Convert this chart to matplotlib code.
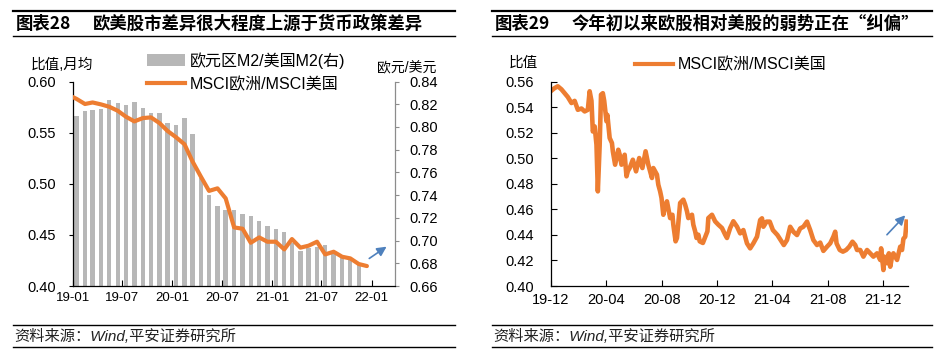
import numpy as np
import pandas as pd
import matplotlib
matplotlib.use("Agg")
import matplotlib.pyplot as plt
import matplotlib.dates as mdates
from matplotlib.lines import Line2D
from matplotlib.patches import Patch

plt.rcParams['font.family'] = ['Liberation Sans', 'Noto Sans CJK SC']
plt.rcParams['axes.unicode_minus'] = False

# ---- left chart: monthly data 2018-12 .. 2021-12 (line), 2019-01 .. 2021-11 (bars)
msci_monthly = [0.587, 0.583, 0.578, 0.5795, 0.5776, 0.5753, 0.5714, 0.5656, 0.561,
                0.5642, 0.5649, 0.5594, 0.5516, 0.5455, 0.5386, 0.522, 0.507, 0.493,
                0.4955, 0.4857, 0.4573, 0.456, 0.4423, 0.4475, 0.4433, 0.4433, 0.4358,
                0.4459, 0.4375, 0.4394, 0.4433, 0.4309, 0.4335, 0.4286, 0.427, 0.4215,
                0.4195]
m2_ratio = [0.8092, 0.8136, 0.8147, 0.8156, 0.8241, 0.8209, 0.8191, 0.8223, 0.8165,
            0.8121, 0.8121, 0.8033, 0.8013, 0.8077, 0.7936, 0.7555, 0.7397, 0.7303,
            0.7271, 0.7268, 0.7233, 0.7215, 0.7171, 0.7127, 0.7101, 0.7077, 0.6975,
            0.691, 0.6931, 0.6946, 0.696, 0.6887, 0.6858, 0.6829, 0.6785]
line_months = pd.period_range('2018-12', periods=len(msci_monthly), freq='M')
bar_months = pd.period_range('2019-01', periods=len(m2_ratio), freq='M')

# ---- right chart: MSCI Europe / MSCI US
msci_dates = [
    '2019-12-02', '2019-12-09', '2019-12-16', '2019-12-24', '2019-12-31', '2020-01-07',
    '2020-01-15', '2020-01-22', '2020-01-29', '2020-02-06', '2020-02-13', '2020-02-20',
    '2020-02-24', '2020-02-28', '2020-03-02', '2020-03-06', '2020-03-10', '2020-03-13',
    '2020-03-17', '2020-03-20', '2020-03-24', '2020-03-27', '2020-04-01', '2020-04-03',
    '2020-04-08', '2020-04-13', '2020-04-15', '2020-04-20', '2020-04-23', '2020-04-27',
    '2020-04-30', '2020-05-04', '2020-05-11', '2020-05-15', '2020-05-18', '2020-05-22',
    '2020-05-29', '2020-06-05', '2020-06-12', '2020-06-19', '2020-06-26', '2020-07-02',
    '2020-07-10', '2020-07-13', '2020-07-21', '2020-07-24', '2020-07-28', '2020-07-31',
    '2020-08-04', '2020-08-07', '2020-08-12', '2020-08-19', '2020-08-24', '2020-08-26',
    '2020-08-31', '2020-09-03', '2020-09-07', '2020-09-10', '2020-09-17', '2020-09-21',
    '2020-09-25', '2020-09-28', '2020-10-06', '2020-10-09', '2020-10-13', '2020-10-16',
    '2020-10-20', '2020-10-23', '2020-10-30', '2020-11-09', '2020-11-11', '2020-11-19',
    '2020-11-26', '2020-12-03', '2020-12-11', '2020-12-18', '2020-12-22', '2020-12-29',
    '2021-01-05', '2021-01-13', '2021-01-20', '2021-01-27', '2021-02-04', '2021-02-11',
    '2021-02-18', '2021-02-26', '2021-03-05', '2021-03-09', '2021-03-12', '2021-03-19',
    '2021-03-26', '2021-04-02', '2021-04-12', '2021-04-19', '2021-04-26', '2021-05-03',
    '2021-05-10', '2021-05-17', '2021-05-25', '2021-06-01', '2021-06-08', '2021-06-16',
    '2021-06-23', '2021-06-30', '2021-07-08', '2021-07-15', '2021-07-22', '2021-07-30',
    '2021-08-06', '2021-08-13', '2021-08-17', '2021-08-20', '2021-08-27', '2021-09-03',
    '2021-09-10', '2021-09-17', '2021-09-24', '2021-09-30', '2021-10-04', '2021-10-11',
    '2021-10-18', '2021-10-26', '2021-11-02', '2021-11-09', '2021-11-17', '2021-11-24',
    '2021-11-26', '2021-12-01', '2021-12-03', '2021-12-09', '2021-12-13', '2021-12-16',
    '2021-12-20', '2021-12-23', '2021-12-31', '2022-01-07', '2022-01-11', '2022-01-14',
    '2022-01-18', '2022-01-21']
msci_daily = [
    0.553, 0.555, 0.5564, 0.554, 0.551, 0.548,
    0.5433, 0.545, 0.538, 0.539, 0.5367, 0.538,
    0.5525, 0.545, 0.521, 0.525, 0.5107, 0.4741,
    0.510, 0.5498, 0.551, 0.545, 0.529, 0.534,
    0.5159, 0.512, 0.5055, 0.495, 0.500, 0.5067,
    0.503, 0.495, 0.5028, 0.4859, 0.490, 0.4924,
    0.4989, 0.4898, 0.5002, 0.4924, 0.5055, 0.495,
    0.4846, 0.4924, 0.4872, 0.4793, 0.4741, 0.469,
    0.4558, 0.461, 0.4663, 0.4532, 0.4558, 0.448,
    0.435, 0.4376, 0.4532, 0.465, 0.4676, 0.4637,
    0.4585, 0.4532, 0.4558, 0.448, 0.4428, 0.4376,
    0.4402, 0.435, 0.4337, 0.4428, 0.4532, 0.4558,
    0.4506, 0.448, 0.4454, 0.4402, 0.4376, 0.4454,
    0.4507, 0.4465, 0.4412, 0.4438, 0.4334, 0.4295,
    0.4334, 0.4386, 0.4517, 0.453, 0.4464, 0.4504,
    0.4504, 0.4438, 0.4399, 0.436, 0.4321, 0.436,
    0.4464, 0.4425, 0.4399, 0.4451, 0.4464, 0.4504,
    0.4438, 0.436, 0.4321, 0.434, 0.4275, 0.4308,
    0.4334, 0.4386, 0.4425, 0.4334, 0.4282, 0.4269,
    0.4282, 0.4308, 0.4347, 0.4321, 0.4282, 0.4282,
    0.423, 0.4282, 0.4256, 0.423, 0.4256, 0.4204,
    0.4295, 0.4125, 0.423, 0.4178, 0.4256, 0.4151,
    0.423, 0.4256, 0.4204, 0.4308, 0.4282, 0.437,
    0.4386, 0.4504]

ORANGE = '#ED7D31'
GRAY = '#B7B7B7'
BLUE = '#4F81BD'
CJK = ['Noto Sans CJK SC']

W, H = 949, 363
fig = plt.figure(figsize=(W / 100, H / 100), dpi=100)


def fx(px):
    return px / W


def fy(py):
    return 1 - py / H


def frame(x0, x1, num, title):
    # title bar with rules, and the source line underneath
    for y, lw in [(11, 1.6), (36, 1.0), (325, 1.0), (347, 1.0)]:
        fig.add_artist(Line2D([fx(x0), fx(x1)], [fy(y), fy(y)], color='black', lw=lw))
    fig.text(fx(x0 + 3), fy(24), num, fontsize=12.5, fontweight='bold', va='center',
             family=CJK)
    fig.text(fx(x0 + 80), fy(24), title, fontsize=12.5, fontweight='bold', va='center',
             family=CJK)
    fig.text(fx(x0 + 1), fy(336.5), '资料来源：Wind,平安证券研究所', fontsize=11,
             style='italic', va='center', color='#222222')


frame(13, 455, '图表28', '欧美股市差异很大程度上源于货币政策差异')
frame(492, 932, '图表29', '今年初以来欧股相对美股的弱势正在“纠偏”')

# ---------------- left chart ----------------
axL = fig.add_axes([fx(72.7), fy(286), fx(395) - fx(72.7), fy(81.5) - fy(286)])
axR = axL.twinx()
axL.set_zorder(axR.get_zorder() + 1)
axL.patch.set_visible(False)

bar_x = bar_months.to_timestamp() + pd.Timedelta(days=14)
line_x = line_months.to_timestamp() + pd.Timedelta(days=14)
axR.bar(bar_x, m2_ratio, width=16, color=GRAY, zorder=1)
axL.plot(line_x, msci_monthly, color=ORANGE, lw=3.0, solid_capstyle='round', zorder=3)

axL.set_xlim(pd.Timestamp('2019-01-01'), pd.Timestamp('2022-03-28'))
axL.set_ylim(0.40, 0.60)
axL.set_yticks(np.arange(0.40, 0.601, 0.05))
axL.yaxis.set_major_formatter(matplotlib.ticker.FormatStrFormatter('%.2f'))
axR.set_ylim(0.66, 0.84)
axR.set_yticks(np.arange(0.66, 0.8401, 0.02))
axR.yaxis.set_major_formatter(matplotlib.ticker.FormatStrFormatter('%.2f'))
axL.xaxis.set_major_locator(mdates.MonthLocator(bymonth=[1, 7]))
axL.xaxis.set_major_formatter(mdates.DateFormatter('%y-%m'))

for ax in (axL, axR):
    ax.spines['top'].set_visible(False)
axL.spines['left'].set_color('black')
axL.spines['bottom'].set_color('black')
axL.spines['right'].set_visible(False)
axR.spines['left'].set_visible(False)
axR.spines['bottom'].set_visible(False)
axR.spines['right'].set_color('#8C8C8C')
for sp in ('left', 'bottom'):
    axL.spines[sp].set_linewidth(0.9)
axR.spines['right'].set_linewidth(0.9)

axL.tick_params(axis='y', direction='out', length=3, width=0.8, labelsize=10.5, pad=9)
axL.tick_params(axis='x', direction='in', length=4, width=0.8, labelsize=9.5, pad=4)
axR.tick_params(axis='y', direction='out', length=3, width=0.8, colors='#8C8C8C',
                labelcolor='black', labelsize=10.5, pad=7)

fig.text(fx(62), fy(65), '比值,月均', fontsize=10.5, ha='center', va='center')
fig.text(fx(407), fy(68.5), '欧元/美元', fontsize=10, ha='center', va='center')

handles = [Patch(facecolor=GRAY, edgecolor='none'),
           Line2D([], [], color=ORANGE, lw=3.0)]
axL.legend(handles, ['欧元区M2/美国M2(右)', 'MSCI欧洲/MSCI美国'],
           loc='upper left', bbox_to_anchor=(fx(147), fy(52)),
           bbox_transform=fig.transFigure, frameon=False, fontsize=11.5,
           handlelength=2.4, handletextpad=0.25, borderpad=0, labelspacing=0.5,
           borderaxespad=0)

axL.annotate('', xy=(0.981, 0.20), xytext=(0.913, 0.127), xycoords='axes fraction',
             arrowprops=dict(arrowstyle='-|>', color=BLUE, lw=1.2, mutation_scale=14),
             annotation_clip=False)

# ---------------- right chart ----------------
ax2 = fig.add_axes([fx(551), fy(286), fx(907.5) - fx(551), fy(81.7) - fy(286)])
ax2.plot(pd.to_datetime(msci_dates), msci_daily, color=ORANGE, lw=3.3,
         solid_joinstyle='round')
ax2.set_xlim(pd.Timestamp('2019-12-01'), pd.Timestamp('2022-01-23'))
ax2.set_ylim(0.40, 0.56)
ax2.set_yticks(np.arange(0.40, 0.5601, 0.02))
ax2.yaxis.set_major_formatter(matplotlib.ticker.FormatStrFormatter('%.2f'))
ax2.xaxis.set_major_locator(mdates.MonthLocator(bymonth=[4, 8, 12]))
ax2.xaxis.set_major_formatter(mdates.DateFormatter('%y-%m'))
ax2.spines['top'].set_visible(False)
ax2.spines['right'].set_visible(False)
ax2.spines['left'].set_linewidth(0.9)
ax2.spines['bottom'].set_linewidth(0.9)
ax2.tick_params(axis='y', direction='in', length=4, width=0.8, labelsize=10.5, pad=12)
ax2.tick_params(axis='x', direction='in', length=4, width=0.8, labelsize=10.5, pad=5)

fig.text(fx(523), fy(63), '比值', fontsize=10.5, ha='center', va='center')
ax2.legend([Line2D([], [], color=ORANGE, lw=3.0)], ['MSCI欧洲/MSCI美国'],
           loc='upper left', bbox_to_anchor=(fx(635), fy(57)),
           bbox_transform=fig.transFigure, frameon=False, fontsize=11.5,
           handlelength=2.4, handletextpad=0.25, borderpad=0, borderaxespad=0)

ax2.annotate('', xy=(0.999, 0.356), xytext=(0.937, 0.241), xycoords='axes fraction',
             arrowprops=dict(arrowstyle='-|>', color=BLUE, lw=1.2, mutation_scale=14),
             annotation_clip=False)

fig.savefig('out.png', dpi=100)
